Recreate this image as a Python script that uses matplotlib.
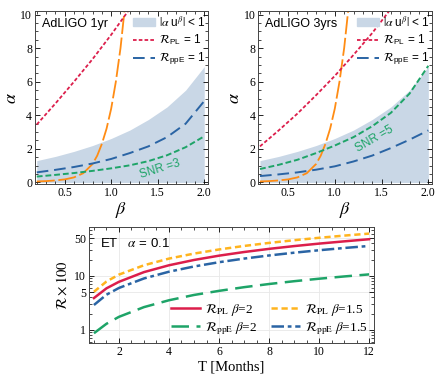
import numpy as np
import matplotlib
matplotlib.use("Agg")
import matplotlib.pyplot as plt
from matplotlib.patches import Patch
from matplotlib.lines import Line2D
from matplotlib.ticker import AutoMinorLocator, FixedLocator, NullFormatter

plt.rcParams["font.family"] = "Liberation Serif"
plt.rcParams["mathtext.fontset"] = "stix"

# --- top panels: alpha vs beta ---
beta_band = [0.2, 0.4, 0.6, 0.8, 1.0, 1.2, 1.4, 1.6, 1.8, 2.0]
alpha_band = [1.3, 1.55, 1.85, 2.2, 2.62, 3.12, 3.75, 4.5, 5.5, 6.9]

beta_orange = [0.2, 0.3, 0.4, 0.5, 0.6, 0.7, 0.8, 0.85, 0.9, 0.95, 1.0, 1.05, 1.1, 1.15]
alpha_orange = [0.06, 0.08, 0.12, 0.18, 0.3, 0.55, 1.1, 1.6, 2.3, 3.2, 4.4, 6.0, 8.0, 10.6]

beta_1yr_pl = [0.2, 0.4, 0.6, 0.8, 1.0, 1.2]
alpha_1yr_pl = [3.45, 4.7, 6.0, 7.35, 8.8, 10.35]
beta_1yr = [0.2, 0.4, 0.6, 0.8, 1.0, 1.2, 1.4, 1.6, 1.8, 2.0]
alpha_1yr_ppe = [0.6, 0.75, 0.92, 1.13, 1.4, 1.75, 2.15, 2.7, 3.5, 4.85]
alpha_1yr_snr = [0.35, 0.45, 0.56, 0.69, 0.84, 1.02, 1.27, 1.62, 2.1, 2.75]

beta_3yr_pl = [0.2, 0.4, 0.6, 0.8, 1.0, 1.2, 1.4, 1.6]
alpha_3yr_pl = [2.15, 3.1, 4.1, 5.2, 6.35, 7.6, 8.9, 10.35]
beta_3yr = [0.2, 0.4, 0.6, 0.8, 1.0, 1.2, 1.4, 1.6, 1.8, 2.0]
alpha_3yr_ppe = [0.38, 0.48, 0.6, 0.76, 0.96, 1.25, 1.6, 2.05, 2.55, 3.1]
alpha_3yr_snr = [0.8, 1.05, 1.35, 1.75, 2.2, 2.7, 3.35, 4.15, 5.3, 6.95]

# --- bottom panel: R x 100 vs T ---
T = [1, 1.5, 2, 3, 4, 5, 6, 7, 8, 9, 10, 11, 12]
r_pl_b2 = [3.9, 5.9, 7.8, 11.8, 15.8, 19.8, 23.8, 27.8, 31.8, 35.8, 39.8, 43.8, 48.0]
r_ppe_b2 = [0.87, 1.3, 1.75, 2.65, 3.55, 4.45, 5.3, 6.2, 7.1, 8.0, 8.9, 9.8, 10.7]
r_pl_b15 = [5.1, 7.9, 10.6, 15.8, 21.0, 26.0, 31.0, 36.0, 41.0, 46.0, 51.0, 56.0, 61.0]
r_ppe_b15 = [2.9, 4.5, 6.0, 9.0, 12.0, 15.0, 18.0, 21.0, 24.0, 27.0, 30.0, 33.0, 36.0]

red = "#dc1e4b"
blue = "#2a64a4"
green = "#1ea468"
orange = "#ff8c14"
gold = "#ffb41e"
band = "#c9d7e6"
sans = "Liberation Sans"

fig = plt.figure(figsize=(4.36, 3.75), dpi=100)
ax1 = fig.add_axes([0.08, 0.509, 0.397, 0.461])
ax2 = fig.add_axes([0.592, 0.509, 0.399, 0.461])
ax3 = fig.add_axes([0.204, 0.085, 0.654, 0.309])


def top_panel(ax, title, b, pl_b, pl, ppe, snr, snr_txt, snr_xy, snr_rot):
    ax.fill_between(beta_band, 0, alpha_band, color=band, lw=0)
    ax.plot(beta_orange, alpha_orange, color=orange, lw=1.3, ls=(0, (10, 2)))
    ax.plot(pl_b, pl, color=red, lw=1.3, ls=(0, (2, 1.2)))
    ax.plot(b, ppe, color=blue, lw=1.4, ls=(0, (6, 3)))
    ax.plot(b, snr, color=green, lw=1.4, ls=(0, (3, 1.5)))
    ax.text(snr_xy[0], snr_xy[1], snr_txt, color=green, fontsize=8.5, family=sans,
            rotation=snr_rot, ha="center", va="center")
    ax.text(0.04, 0.96, title, transform=ax.transAxes, fontsize=9, family=sans,
            ha="left", va="top")
    handles = [Patch(color=band),
               Line2D([], [], color=red, lw=1.3, ls=(0, (2, 1.2))),
               Line2D([], [], color=blue, lw=1.4, ls=(0, (6, 3)))]
    labels = [r"$|\alpha\ \mathregular{u}^{\beta}|$ < 1",
              r"$\mathcal{R}_{\mathregular{PL}}$ = 1",
              r"$\mathcal{R}_{\mathregular{ppE}}$ = 1"]
    ax.legend(handles, labels, loc="upper right", frameon=False,
              prop={"family": sans, "size": 8.5}, handlelength=1.8,
              handletextpad=0.4, labelspacing=0.3, borderaxespad=0.2,
              bbox_to_anchor=(1.03, 1.02))
    ax.set_xlim(0.18, 2.04)
    ax.set_ylim(-0.1, 10.2)
    ax.set_xticks([0.5, 1.0, 1.5, 2.0])
    ax.set_yticks([0, 2, 4, 6, 8, 10])
    ax.xaxis.set_minor_locator(AutoMinorLocator(5))
    ax.yaxis.set_minor_locator(AutoMinorLocator(4))
    ax.tick_params(which="both", direction="in", top=True, right=True, labelsize=8.5,
                   pad=2)
    ax.tick_params(which="major", length=3.5, width=0.6)
    ax.tick_params(which="minor", length=2, width=0.5)
    ax.set_xlabel(r"$\beta$", fontsize=13, labelpad=1)
    ax.set_ylabel(r"$\alpha$", fontsize=13, labelpad=0)
    for s in ax.spines.values():
        s.set_color("#444444")
        s.set_linewidth(0.7)


top_panel(ax1, "AdLIGO 1yr", beta_1yr, beta_1yr_pl, alpha_1yr_pl, alpha_1yr_ppe,
          alpha_1yr_snr, "SNR =3", (1.52, 0.82), 17)
top_panel(ax2, "AdLIGO 3yrs", beta_3yr, beta_3yr_pl, alpha_3yr_pl, alpha_3yr_ppe,
          alpha_3yr_snr, "SNR =5", (1.42, 2.6), 30)

# bottom panel
ax3.plot(T, r_pl_b2, color=red, lw=1.8, label=r"$\mathcal{R}_{\rm PL}\ \beta$=2")
ax3.plot(T, r_ppe_b2, color=green, lw=1.8, ls=(0, (7, 3)),
         label=r"$\mathcal{R}_{\rm ppE}\ \beta$=2")
ax3.plot(T, r_pl_b15, color=gold, lw=1.8, ls=(0, (2.5, 1.5)),
         label=r"$\mathcal{R}_{\rm PL}\ \beta$=1.5")
ax3.plot(T, r_ppe_b15, color=blue, lw=1.8, ls=(0, (5, 1.5, 1.5, 1.5)),
         label=r"$\mathcal{R}_{\rm ppE}\ \beta$=1.5")
ax3.set_yscale("log")
ax3.set_xlim(0.8, 12.2)
ax3.set_ylim(0.57, 80)
ax3.set_xticks([2, 4, 6, 8, 10, 12])
ax3.xaxis.set_minor_locator(AutoMinorLocator(4))
ax3.yaxis.set_major_locator(FixedLocator([1, 5, 10, 50]))
ax3.set_yticklabels(["1", "5", "10", "50"])
ax3.yaxis.set_minor_locator(FixedLocator([0.6, 0.7, 0.8, 0.9, 2, 3, 4, 6, 7, 8, 9,
                                          20, 30, 40, 60, 70]))
ax3.yaxis.set_minor_formatter(NullFormatter())
ax3.grid(True, which="major", color="#e8e8e8", lw=0.6)
ax3.tick_params(which="both", direction="in", top=True, right=True, labelsize=8.5,
                pad=2)
ax3.tick_params(which="major", length=3.5, width=0.6)
ax3.tick_params(which="minor", length=2, width=0.5)
ax3.set_xlabel("T [Months]", fontsize=10.5, labelpad=2)
ax3.set_ylabel(r"$\mathcal{R}\times 100$", fontsize=10.5, labelpad=3)
ax3.text(0.04, 0.92, r"ET   $\alpha$ = 0.1", transform=ax3.transAxes, fontsize=9.5,
         family=sans, ha="left", va="top")
ax3.legend(loc="lower right", ncol=2, frameon=False, fontsize=9.5, handlelength=2.2,
           handletextpad=0.4, columnspacing=1.0, labelspacing=0.15,
           borderaxespad=0.1)
for s in ax3.spines.values():
    s.set_color("#444444")
    s.set_linewidth(0.7)

fig.savefig("out.png", dpi=100)
